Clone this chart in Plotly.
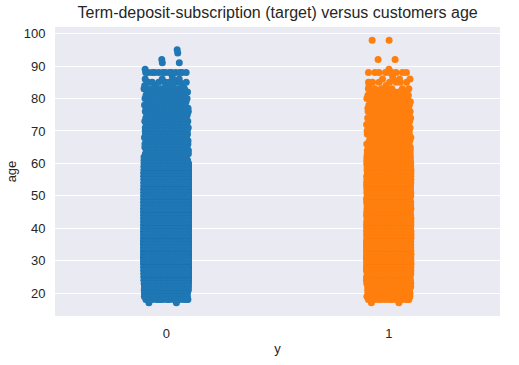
import numpy as np
import plotly.graph_objects as go

# Estimated number of customers at each age, per target class
ages_no = [17, 18, 19, 20, 21, 22, 23, 24, 25, 26, 27, 28, 29, 30, 31, 32, 33, 34, 35, 36,
           37, 38, 39, 40, 41, 42, 43, 44, 45, 46, 47, 48, 49, 50, 51, 52, 53, 54, 55, 56,
           57, 58, 59, 60, 61, 62, 63, 64, 65, 66, 67, 68, 69, 70, 71, 72, 73, 74, 75, 76,
           77, 78, 79, 80, 81, 82, 83, 84, 85, 86, 87, 88, 89, 91, 92, 94, 95]
counts_no = [2, 16, 22, 42, 73, 107, 178, 375, 519, 626, 741, 932, 1287, 1507, 1727, 1654, 1662, 1488, 1584, 1620,
             1312, 1268, 1301, 1042, 1175, 1047, 985, 1030, 1027, 1074, 873, 900, 787, 794, 686, 714, 657, 664, 615, 643,
             591, 518, 402, 219, 35, 30, 20, 25, 19, 33, 16, 19, 17, 24, 30, 13, 19, 16, 13, 18,
             11, 13, 8, 15, 9, 10, 10, 5, 8, 4, 1, 13, 1, 2, 1, 1, 1]

ages_yes = [17, 18, 19, 20, 21, 22, 23, 24, 25, 26, 27, 28, 29, 30, 31, 32, 33, 34, 35, 36,
            37, 38, 39, 40, 41, 42, 43, 44, 45, 46, 47, 48, 49, 50, 51, 52, 53, 54, 55, 56,
            57, 58, 59, 60, 61, 62, 63, 64, 65, 66, 67, 68, 69, 70, 71, 72, 73, 74, 75, 76,
            77, 78, 79, 80, 81, 82, 83, 84, 85, 86, 87, 88, 89, 92, 98]
counts_yes = [2, 12, 20, 23, 29, 30, 48, 88, 79, 72, 110, 151, 186, 202, 220, 187, 171, 157, 146, 160,
              113, 139, 131, 74, 103, 94, 81, 66, 76, 81, 55, 79, 52, 81, 60, 57, 76, 66, 69, 74,
              56, 69, 62, 64, 42, 32, 28, 35, 25, 30, 10, 14, 17, 23, 23, 21, 15, 16, 11, 16,
              15, 14, 6, 16, 11, 7, 7, 2, 7, 4, 1, 9, 1, 2, 2]

categories = [0, 1]
category_labels = ["0", "1"]
colors = ["#1f77b4", "#ff7f0e"]

JITTER = 0.1
GOLDEN = 0.6180339887498949


def strip_points(cat, ages, counts):
    y = np.repeat(np.array(ages, dtype=float), counts)
    k = np.arange(len(y))
    offs = ((k * GOLDEN + 0.37 * (y % 7)) % 1.0 - 0.5) * 2 * JITTER
    return cat + offs, y


fig = go.Figure()
for cat, ages, counts, col in zip(categories, [ages_no, ages_yes], [counts_no, counts_yes], colors):
    x, y = strip_points(cat, ages, counts)
    fig.add_trace(go.Scatter(x=x, y=y, mode="markers",
                             marker=dict(color=col, size=7, line=dict(width=0)),
                             showlegend=False, hoverinfo="skip"))

fig.update_layout(
    width=519, height=365,
    margin=dict(l=55, r=19, t=27, b=49),
    paper_bgcolor="white", plot_bgcolor="#EAEAF2",
    font=dict(family="Liberation Sans, Arial, sans-serif", size=13, color="#262626"),
    title=dict(text="Term-deposit-subscription (target) versus customers age",
               x=0.535, xanchor="center", y=0.966, yanchor="middle",
               font=dict(size=16, color="#262626")),
)
fig.update_xaxes(range=[-0.5, 1.5], tickvals=categories, ticktext=category_labels,
                 showgrid=False, zeroline=False, showline=False,
                 ticks="outside", ticklen=5, tickcolor="rgba(0,0,0,0)",
                 automargin=False, tickfont=dict(size=13),
                 title=dict(text="y", standoff=4, font=dict(size=13)))
fig.update_yaxes(range=[12.95, 102.05], tickvals=[20, 30, 40, 50, 60, 70, 80, 90, 100],
                 showgrid=True, gridcolor="white", gridwidth=1, zeroline=False,
                 showline=False, ticks="outside", ticklen=6, tickcolor="rgba(0,0,0,0)",
                 automargin=False, tickfont=dict(size=13),
                 title=dict(text="age", standoff=4, font=dict(size=13)))

fig.write_html("out.html", config={"displayModeBar": False},
               post_script="document.body.style.margin='0';document.body.style.padding='0';")
